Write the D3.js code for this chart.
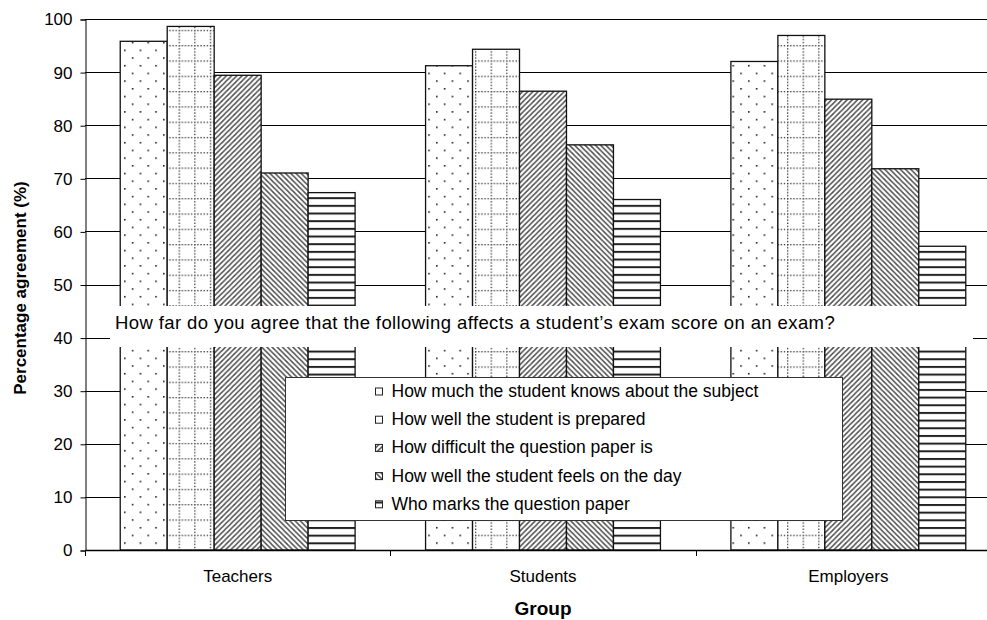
<!DOCTYPE html>
<html>
<head>
<meta charset="utf-8">
<script src="https://cdn.jsdelivr.net/npm/d3@7"></script>
<style>
  html, body { margin: 0; padding: 0; background: #fff; }
  svg { display: block; font-family: "Liberation Sans", Arial, sans-serif; }
</style>
</head>
<body>
<svg id="chart" width="987" height="620"></svg>
<script>
// Survey: share of each group agreeing that a factor affects exam scores
const groups = ["Teachers", "Students", "Employers"];
const factors = [
  "How much the student knows about the subject",
  "How well the student is prepared",
  "How difficult the question paper is",
  "How well the student feels on the day",
  "Who marks the question paper"
];
const teachers  = [95.8, 98.6, 89.4, 71.0, 67.3];
const students  = [91.2, 94.3, 86.4, 76.3, 66.0];
const employers = [92.0, 96.9, 84.9, 71.8, 57.2];
const yTicks = [0, 10, 20, 30, 40, 50, 60, 70, 80, 90, 100];
const chartTitle = "How far do you agree that the following affects a student\u2019s exam score on an exam?";
const yTitle = "Percentage agreement (%)";
const xTitle = "Group";

const values = [teachers, students, employers];

const svg = d3.select("#chart");
const plot = { left: 85, right: 1001, top: 19, bottom: 550 };

const x0 = d3.scaleBand().domain(groups).range([plot.left, plot.right]).padding(0);
const x1 = d3.scaleBand().domain(d3.range(factors.length))
  .range([0, x0.bandwidth()]).paddingInner(0).paddingOuter(0.75);
const y = d3.scaleLinear().domain([0, 100]).range([plot.bottom, plot.top]);

// ---- fill patterns ----
const defs = svg.append("defs");
function pat(id, w, h) {
  return defs.append("pattern").attr("id", id).attr("patternUnits", "userSpaceOnUse")
    .attr("width", w).attr("height", h).attr("x", plot.left).attr("y", plot.bottom);
}
// sparse staggered dots
{
  const p = pat("p0", 15.6, 15.4);
  p.append("rect").attr("width", 15.6).attr("height", 15.4).attr("fill", "#fff");
  p.append("rect").attr("x", 0).attr("y", 0).attr("width", 1.6).attr("height", 1.6).attr("fill", "#222");
  p.append("rect").attr("x", 7.8).attr("y", 7.7).attr("width", 1.6).attr("height", 1.6).attr("fill", "#222");
}
// dotted grid
{
  const w = 15.6, h = 15.3;
  const p = pat("p1", w, h);
  p.append("rect").attr("width", w).attr("height", h).attr("fill", "#fff");
  for (let i = 0; i < 5; i++) {
    p.append("rect").attr("x", i * w / 5).attr("y", 0).attr("width", 1.3).attr("height", 1.3).attr("fill", "#333");
    p.append("rect").attr("x", 0).attr("y", i * h / 5).attr("width", 1.3).attr("height", 1.3).attr("fill", "#333");
  }
}
// upward diagonal stripes
{
  const s = 5.2;
  const p = pat("p2", s, s);
  p.append("rect").attr("width", s).attr("height", s).attr("fill", "#fff");
  p.append("path").attr("d", `M${-s},${s * 2} L${s * 2},${-s} M${-s},${s} L${s},${-s} M0,${s * 2} L${s * 2},0`)
    .attr("stroke", "#4a4a4a").attr("stroke-width", 1.4);
}
// downward diagonal stripes
{
  const s = 5.2;
  const p = pat("p3", s, s);
  p.append("rect").attr("width", s).attr("height", s).attr("fill", "#fff");
  p.append("path").attr("d", `M${-s},${-s} L${s * 2},${s * 2} M${-s},0 L${s},${s * 2} M0,${-s} L${s * 2},${s}`)
    .attr("stroke", "#4a4a4a").attr("stroke-width", 1.4);
}
// horizontal lines
{
  const h = 7.67;
  const p = pat("p4", 10, h);
  p.append("rect").attr("width", 10).attr("height", h).attr("fill", "#fff");
  p.append("rect").attr("x", 0).attr("y", 0).attr("width", 10).attr("height", 2).attr("fill", "#222");
}

// ---- gridlines ----
svg.append("g").selectAll("line").data(yTicks.filter(d => d > 0)).join("line")
  .attr("x1", plot.left).attr("x2", plot.right)
  .attr("y1", d => Math.round(y(d)) + 0.5).attr("y2", d => Math.round(y(d)) + 0.5)
  .attr("stroke", "#000").attr("stroke-width", 1);

// ---- y axis ----
const yAxis = d3.axisLeft(y).tickValues(yTicks).tickSize(5).tickPadding(8);
const gy = svg.append("g").attr("transform", `translate(${plot.left + 0.5},0.5)`).call(yAxis);
gy.select(".domain").attr("stroke", "#000");
gy.selectAll(".tick line").attr("stroke", "#000");
gy.selectAll(".tick text").attr("font-size", 17).attr("fill", "#000")
  .attr("font-family", "Liberation Sans, Arial, sans-serif");

// ---- bars ----
const gBars = svg.append("g");
groups.forEach((g, gi) => {
  gBars.selectAll(null).data(values[gi]).join("rect")
    .attr("x", (d, i) => x0(g) + x1(i))
    .attr("y", d => y(d))
    .attr("width", x1.bandwidth())
    .attr("height", d => y(0) - y(d))
    .attr("fill", (d, i) => `url(#p${i})`)
    .attr("stroke", "#111").attr("stroke-width", 1.3);
});

// ---- x axis ----
const xAxis = d3.axisBottom(x0).tickSize(0).tickPadding(20);
const gx = svg.append("g").attr("transform", `translate(0,${plot.bottom})`).call(xAxis);
gx.select(".domain").attr("stroke", "#000").attr("stroke-width", 1.5);
gx.selectAll(".tick text").attr("font-size", 17).attr("fill", "#000")
  .attr("font-family", "Liberation Sans, Arial, sans-serif");
// category separators
gx.append("g").selectAll("line").data(groups.slice(1)).join("line")
  .attr("x1", d => Math.round(x0(d)) + 0.5).attr("x2", d => Math.round(x0(d)) + 0.5)
  .attr("y1", 0).attr("y2", 6).attr("stroke", "#000");
gx.append("line").attr("x1", plot.left + 0.5).attr("x2", plot.left + 0.5)
  .attr("y1", 0).attr("y2", 6).attr("stroke", "#000");

// ---- axis titles ----
svg.append("text").attr("transform", `translate(26,288) rotate(-90)`)
  .attr("text-anchor", "middle").attr("font-weight", "bold").attr("font-size", 17).text(yTitle);
svg.append("text").attr("x", (plot.left + plot.right) / 2).attr("y", 615)
  .attr("text-anchor", "middle").attr("font-weight", "bold").attr("font-size", 19).text(xTitle);

// ---- chart title band over the plot ----
svg.append("rect").attr("x", 110).attr("y", 306).attr("width", 863).attr("height", 41).attr("fill", "#fff");
svg.append("text").attr("x", 115).attr("y", 329).attr("font-size", 18.5)
  .attr("letter-spacing", 0.4).text(chartTitle);

// ---- legend ----
const lg = svg.append("g").attr("transform", "translate(285.5,377.5)");
lg.append("rect").attr("width", 557).attr("height", 143).attr("fill", "#fff").attr("stroke", "#333");
const items = lg.selectAll("g.item").data(factors).join("g").attr("class", "item")
  .attr("transform", (d, i) => `translate(90,${13.5 + i * 28.2})`);
// the sparse dot patterns read as blank at swatch size
items.append("rect").attr("x", 0).attr("y", -3).attr("width", 7).attr("height", 7)
  .attr("fill", (d, i) => i < 2 ? "#fff" : `url(#p${i})`).attr("stroke", "#222");
items.append("text").attr("x", 16).attr("y", 6).attr("font-size", 17.5).text(d => d);
</script>
</body>
</html>
